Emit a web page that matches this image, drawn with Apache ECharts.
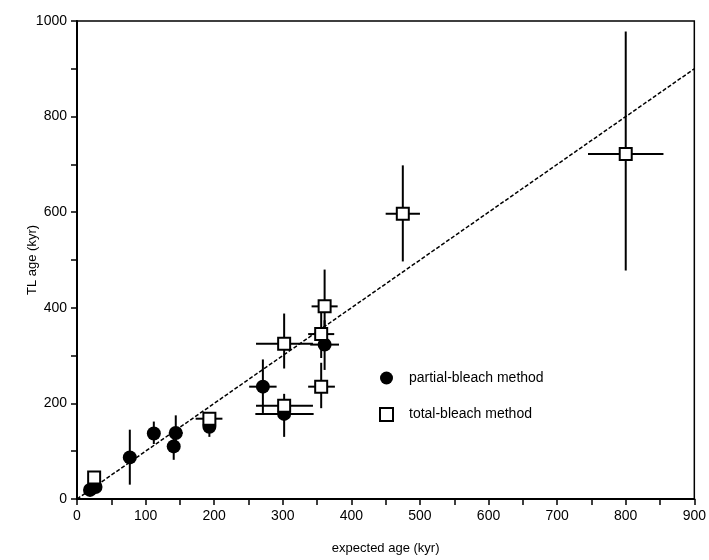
<!DOCTYPE html>
<html>
<head>
<meta charset="utf-8">
<script src="https://cdn.jsdelivr.net/npm/echarts@6/dist/echarts.min.js"></script>
<style>
  html, body { margin: 0; padding: 0; background: #fff; }
  #chart { width: 709px; height: 560px; }
</style>
</head>
<body>
<div id="chart"></div>
<script>
// partial-bleach method (filled circles)
var partialX   = [19, 27, 77, 112, 144, 141, 193, 271, 302, 361];
var partialY   = [19, 25, 87, 137, 138, 110, 151, 235, 178, 323];
var partialXLo = [19, 27, 77, 103, 134, 141, 185, 251, 260, 340];
var partialXHi = [19, 27, 77, 120, 154, 141, 200, 291, 345, 382];
var partialYLo = [19, 25, 30, 115, 112, 82, 130, 180, 130, 270];
var partialYHi = [19, 25, 145, 162, 175, 130, 163, 292, 192, 374];

// total-bleach method (open squares)
var totalX   = [25, 193, 302, 302, 356, 356, 361, 475, 800];
var totalY   = [45, 168, 325, 195, 235, 345, 403, 597, 722];
var totalXLo = [25, 173, 261, 261, 337, 337, 342, 450, 745];
var totalXHi = [25, 212, 344, 344, 376, 375, 380, 500, 855];
var totalYLo = [45, 168, 273, 180, 190, 295, 330, 497, 478];
var totalYHi = [45, 168, 388, 220, 285, 390, 480, 698, 978];

// 1:1 line
var lineX = [0, 900];
var lineY = [0, 900];

var xTicks = [0, 100, 200, 300, 400, 500, 600, 700, 800, 900];
var yTicks = [0, 200, 400, 600, 800, 1000];

function pts(xs, ys) {
    return xs.map(function (x, i) { return [x, ys[i]]; });
}
function bars(xs, ys, xl, xh, yl, yh) {
    return xs.map(function (x, i) { return [x, ys[i], xl[i], xh[i], yl[i], yh[i]]; });
}

// draws the cross of error bars for one point
function errorItem(params, api) {
    var c = api.coord([api.value(0), api.value(1)]);
    var l = api.coord([api.value(2), api.value(1)]);
    var r = api.coord([api.value(3), api.value(1)]);
    var b = api.coord([api.value(0), api.value(4)]);
    var t = api.coord([api.value(0), api.value(5)]);
    var style = { stroke: '#000', lineWidth: 2 };
    return {
        type: 'group',
        children: [
            { type: 'line', shape: { x1: l[0], y1: c[1], x2: r[0], y2: c[1] }, style: style },
            { type: 'line', shape: { x1: c[0], y1: b[1], x2: c[0], y2: t[1] }, style: style }
        ]
    };
}

var chart = echarts.init(document.getElementById('chart'));
var fam = 'Liberation Sans, Arial, sans-serif';
var axisFont = { color: '#000', fontSize: 14, fontFamily: fam };

var option = {
    animation: false,
    backgroundColor: '#fff',
    grid: {
        left: 77, right: 12, top: 21, bottom: 61,
        show: true, borderColor: '#000', borderWidth: 1.5
    },
    legend: {
        orient: 'vertical',
        left: 374, top: 366,
        padding: 5,
        itemWidth: 13, itemHeight: 13,
        itemGap: 22,
        textStyle: { color: '#000', fontSize: 14, fontFamily: fam, padding: [0, 0, 0, 11] },
        data: [
            { name: 'partial-bleach method', icon: 'circle' },
            { name: 'total-bleach method', icon: 'rect' }
        ]
    },
    xAxis: {
        type: 'value', min: 0, max: 900, interval: 50,
        name: 'expected age (kyr)', nameLocation: 'middle', nameGap: 43,
        nameMoveOverlap: false,
        nameTextStyle: { color: '#000', fontSize: 13, fontFamily: fam },
        splitLine: { show: false },
        axisLine: { lineStyle: { color: '#000', width: 2 } },
        axisTick: { length: 6, lineStyle: { color: '#000', width: 1.5 } },
        axisLabel: Object.assign({
            margin: 10,
            formatter: function (v) { return xTicks.indexOf(v) >= 0 ? String(v) : ''; }
        }, axisFont)
    },
    yAxis: {
        type: 'value', min: 0, max: 1000, interval: 100,
        name: 'TL age (kyr)', nameLocation: 'middle', nameGap: 38,
        nameMoveOverlap: false,
        nameTextStyle: { color: '#000', fontSize: 13, fontFamily: fam },
        splitLine: { show: false },
        axisLine: { lineStyle: { color: '#000', width: 2 } },
        axisTick: { length: 6, lineStyle: { color: '#000', width: 1.5 } },
        axisLabel: Object.assign({
            margin: 10,
            formatter: function (v) { return yTicks.indexOf(v) >= 0 ? String(v) : ''; }
        }, axisFont)
    },
    series: [
        {
            name: 'fit', type: 'line', data: pts(lineX, lineY),
            symbol: 'none', silent: true,
            lineStyle: { color: '#000', width: 1.5, type: [4, 2] },
            z: 1
        },
        {
            name: 'partial-err', type: 'custom', renderItem: errorItem,
            data: bars(partialX, partialY, partialXLo, partialXHi, partialYLo, partialYHi),
            encode: { x: 0, y: 1 }, z: 2
        },
        {
            name: 'total-err', type: 'custom', renderItem: errorItem,
            data: bars(totalX, totalY, totalXLo, totalXHi, totalYLo, totalYHi),
            encode: { x: 0, y: 1 }, z: 2
        },
        {
            name: 'partial-bleach method', type: 'scatter',
            data: pts(partialX, partialY),
            symbol: 'circle', symbolSize: 14,
            itemStyle: { color: '#000', opacity: 1 },
            z: 3
        },
        {
            name: 'total-bleach method', type: 'scatter',
            data: pts(totalX, totalY),
            symbol: 'rect', symbolSize: 12,
            itemStyle: { color: '#fff', borderColor: '#000', borderWidth: 2, opacity: 1 },
            z: 4
        }
    ]
};

chart.setOption(option);
</script>
</body>
</html>
